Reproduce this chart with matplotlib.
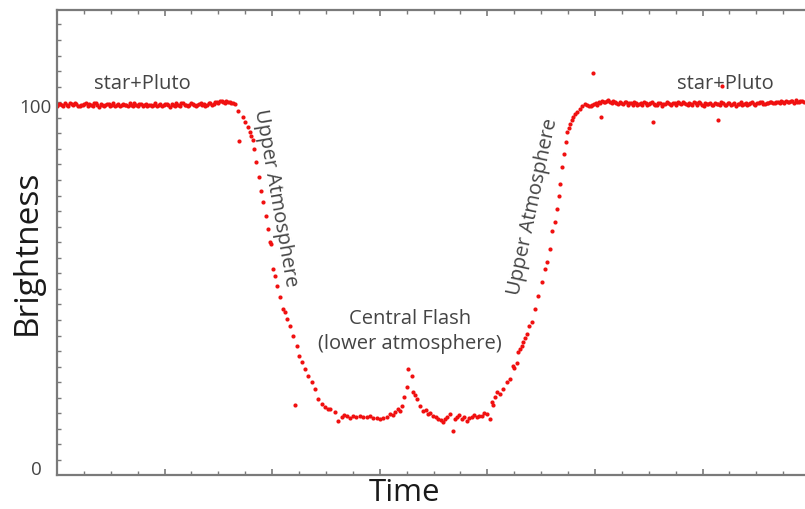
import numpy as np
import matplotlib.pyplot as plt
from matplotlib.ticker import MultipleLocator, FixedLocator

plt.rcParams['font.family'] = ['Open Sans', 'DejaVu Sans']

# baseline before the occultation (star + Pluto)
t_before = [0, 3, 6, 9, 12, 15, 18, 21, 24, 27, 30, 33, 36, 39, 42, 45, 48, 51, 54, 57,
            60, 63, 66, 69, 72, 75, 78, 81, 84, 87, 90, 93, 96, 99, 102, 105, 108, 111, 114, 117,
            120, 123, 126, 129, 132, 135, 138, 141, 144, 147, 150, 153, 156, 159, 162, 165]
b_before = [99.8, 100.2, 99.6, 100.1, 100.5, 99.9, 100.3, 99.7, 100.0, 100.6,
            100.2, 99.8, 100.4, 99.5, 100.1, 99.9, 100.3, 100.0, 99.6, 100.2,
            99.9, 100.1, 99.7, 100.0, 100.4, 99.8, 100.2, 99.9, 99.6, 100.1,
            100.0, 99.7, 100.3, 99.9, 100.2, 99.5, 100.0, 100.4, 99.8, 100.6,
            100.1, 99.9, 100.3, 99.7, 100.2, 100.0, 99.6, 100.4, 100.1, 100.8,
            100.5, 101.0, 100.6, 100.9, 100.4, 100.2]
t_before_mid = [1.5, 4.5, 7.5, 10.5, 13.5, 16.5, 19.5, 22.5, 25.5, 28.5, 31.5, 34.5, 37.5,
                40.5, 43.5, 46.5, 49.5, 52.5, 55.5, 58.5, 61.5, 64.5, 67.5, 70.5, 73.5, 76.5,
                79.5, 82.5, 85.5, 88.5, 91.5, 94.5, 97.5, 100.5, 103.5, 106.5, 109.5, 112.5,
                115.5, 118.5, 121.5, 124.5, 127.5, 130.5, 133.5, 136.5, 139.5, 142.5, 145.5,
                148.5, 151.5, 154.5, 157.5, 160.5, 163.5]
b_before_mid = [100.3, 99.9, 100.5, 99.6, 100.2, 100.4, 99.8, 100.1, 100.3, 99.7,
                100.0, 100.5, 99.9, 100.2, 99.6, 100.3, 99.8, 100.4, 100.0, 99.7,
                100.3, 99.9, 100.5, 99.8, 100.1, 100.3, 99.7, 100.2, 100.0, 99.8,
                100.4, 100.1, 99.6, 100.3, 99.9, 100.2, 99.7, 100.1, 100.5, 100.0,
                99.8, 100.4, 100.1, 99.9, 100.5, 100.2, 100.0, 100.6, 100.3, 100.9,
                101.1, 100.7, 101.2, 100.8, 100.5]

# ingress through the upper atmosphere
t_ingress = [168.2, 172.9, 174.7, 177.5, 179.4, 180.3, 182.2, 183.1, 184.9, 187.7,
             189.6, 191.4, 194.2, 196.1, 198.0, 198.9, 200.7, 202.6, 204.5, 207.2,
             210.0, 211.9, 213.8, 216.5, 219.3, 223.0, 224.9, 227.7, 230.5, 233.3,
             237.0, 239.8, 242.6, 246.3, 249.1, 251.9, 253.7, 258.4]
b_ingress = [98.3, 96.7, 95.3, 93.9, 92.6, 91.4, 90.3, 87.8, 84.3, 80.1,
             76.2, 73.2, 69.3, 65.7, 62.2, 61.6, 54.7, 52.8, 50.0, 47.0,
             43.6, 42.8, 40.9, 39.0, 36.2, 33.4, 30.7, 29.0, 27.1, 25.1,
             23.5, 21.5, 18.8, 17.4, 16.6, 16.0, 16.0, 15.2]

# floor of the light curve with the central flash
t_floor = [261.2, 264.9, 267.0, 269.5, 272.3, 275.1, 278.0, 281.6, 284.5, 288.1,
           291.0, 293.7, 297.0, 300.2, 303.4, 306.7, 309.5, 312.0, 314.1, 316.9,
           318.8, 320.6, 322.5, 325.3, 326.2, 329.9, 330.9, 332.5, 334.6, 337.4,
           340.1, 342.5, 344.8, 347.0, 349.4, 351.8, 354.1, 356.5, 358.7, 360.5,
           362.5, 365.2, 369.8, 371.7, 374.0, 376.4, 378.7, 381.0, 383.3, 385.7,
           388.0, 390.3, 392.6, 395.0, 397.3, 399.6, 402.4]
b_floor = [12.7, 13.8, 14.4, 14.1, 13.6, 14.1, 13.9, 14.1, 13.7, 13.8,
           14.0, 13.5, 13.6, 13.3, 13.5, 13.8, 14.6, 14.4, 15.2, 16.0,
           15.6, 16.9, 19.3, 22.1, 27.1, 25.1, 20.7, 19.9, 18.8, 16.9,
           15.5, 15.8, 14.6, 14.9, 14.1, 13.9, 13.3, 13.0, 12.4, 13.2,
           13.8, 14.6, 13.4, 13.8, 14.3, 13.3, 13.9, 12.7, 13.5, 13.8,
           14.4, 13.8, 14.2, 14.1, 15.0, 14.6, 13.3]

# egress
t_egress = [404.3, 405.6, 407.1, 408.9, 411.7, 414.5, 418.2, 421.0, 423.8, 425.2,
            427.5, 428.4, 430.3, 432.2, 433.1, 435.0, 436.8, 438.7, 441.4, 444.2,
            447.0, 450.7, 453.5, 455.4, 458.2, 460.0, 462.8, 464.7, 466.5, 467.5,
            469.3, 471.2, 473.0, 474.0, 475.4, 476.8, 478.2, 479.6, 481.5, 483.3,
            486.1, 488.4, 490.7]
b_egress = [18.0, 17.2, 19.3, 20.7, 20.2, 21.5, 23.5, 24.3, 27.9, 27.4,
            28.7, 31.8, 32.6, 33.4, 34.5, 35.6, 36.7, 39.0, 40.1, 43.6,
            47.2, 51.1, 54.7, 56.6, 60.2, 65.2, 67.7, 71.3, 74.9, 78.2,
            82.9, 86.5, 89.8, 92.5, 93.6, 94.8, 95.9, 96.7, 97.4, 98.1,
            98.9, 99.6, 100.3]

# baseline after the occultation
t_after = [493, 496, 499, 502, 505, 508, 511, 514, 517, 520, 523, 526, 529, 532, 535, 538, 541,
           544, 547, 550, 553, 556, 559, 562, 565, 568, 571, 574, 577, 580, 583, 586, 589, 592,
           595, 598, 601, 604, 607, 610, 613, 616, 619, 622, 625, 628, 631, 634, 637, 640, 643,
           646, 649, 652, 655, 658, 661, 664, 667, 670, 673, 676, 679, 682, 685, 688, 691, 694]
b_after = [100.0, 99.7, 100.3, 100.1, 100.6, 100.9, 101.2, 100.8, 101.0, 100.5,
           100.9, 100.2, 100.7, 100.4, 100.0, 100.6, 100.3, 99.9, 100.5, 100.2,
           100.8, 100.1, 100.4, 99.8, 100.3, 100.6, 100.0, 100.4, 100.9, 100.2,
           100.5, 99.9, 100.3, 100.7, 100.1, 100.4, 99.8, 100.2, 100.5, 100.0,
           100.3, 99.9, 100.4, 100.1, 100.6, 100.2, 99.8, 100.3, 100.0, 100.5,
           100.2, 100.7, 100.1, 100.4, 100.8, 100.3, 100.6, 100.9, 100.4, 100.7,
           101.0, 100.5, 100.8, 101.1, 100.6, 100.9, 101.2, 100.8]
t_after_mid = [494.5, 497.5, 500.5, 503.5, 506.5, 509.5, 512.5, 515.5, 518.5, 521.5, 524.5,
               527.5, 530.5, 533.5, 536.5, 539.5, 542.5, 545.5, 548.5, 551.5, 554.5, 557.5,
               560.5, 563.5, 566.5, 569.5, 572.5, 575.5, 578.5, 581.5, 584.5, 587.5, 590.5,
               593.5, 596.5, 599.5, 602.5, 605.5, 608.5, 611.5, 614.5, 617.5, 620.5, 623.5,
               626.5, 629.5, 632.5, 635.5, 638.5, 641.5, 644.5, 647.5, 650.5, 653.5, 656.5,
               659.5, 662.5, 665.5, 668.5, 671.5, 674.5, 677.5, 680.5, 683.5, 686.5, 689.5,
               692.5]
b_after_mid = [99.8, 100.1, 100.4, 100.8, 101.1, 100.7, 101.3, 100.6, 100.9, 100.3,
               100.6, 100.9, 100.1, 100.5, 100.8, 100.0, 100.4, 100.7, 100.1, 100.6,
               100.3, 100.0, 100.5, 100.2, 100.8, 100.3, 100.6, 100.1, 100.5, 100.8,
               100.2, 100.6, 100.0, 100.4, 100.7, 100.1, 100.5, 100.2, 99.9, 100.6,
               100.3, 100.8, 100.0, 100.4, 100.1, 100.5, 100.2, 100.7, 100.3, 100.0,
               100.5, 100.3, 100.6, 100.9, 100.2, 100.5, 100.8, 100.6, 100.9, 100.5,
               100.8, 101.1, 100.7, 101.0, 101.3, 100.9, 101.1]

# stray points
t_out = [169.1, 221.2, 368.0, 498.1, 505.6, 553.9, 614.3, 618.0]
b_out = [90.1, 17.1, 9.9, 108.8, 96.7, 95.3, 95.9, 105.2]

fig = plt.figure(figsize=(8.05, 5.10), dpi=100)
ax = fig.add_axes([57 / 805, 34 / 510, 748 / 805, 465 / 510])

red = '#f01010'
for t, b in [(t_before, b_before), (t_before_mid, b_before_mid),
             (t_ingress, b_ingress), (t_floor, b_floor), (t_egress, b_egress),
             (t_after, b_after), (t_after_mid, b_after_mid), (t_out, b_out)]:
    ax.plot(t, b, 'o', color=red, ms=3.0, mew=0)

ax.set_xlim(0, 695.2)
ax.set_ylim(-2.2, 126.2)

# frame and ticks
for s in ['left', 'bottom', 'top']:
    ax.spines[s].set_color('#7a7a7a')
    ax.spines[s].set_linewidth(1.6)
ax.spines['right'].set_visible(False)

ax.xaxis.set_major_locator(MultipleLocator(100))
ax.xaxis.set_minor_locator(MultipleLocator(25))
ax.set_xticklabels([])
ax.tick_params(axis='x', which='both', direction='in', top=True, bottom=True,
               color='#7a7a7a', labelbottom=False)
ax.tick_params(axis='x', which='major', length=4, width=1.2)
ax.tick_params(axis='x', which='minor', length=3, width=1.0)

ax.set_yticks([0, 100])
ax.set_yticklabels(['0  ', '100'])
ax.yaxis.set_minor_locator(FixedLocator(np.arange(1.93, 126, 4.296)))
ax.tick_params(axis='y', which='major', length=0, pad=4, labelsize=13.5, labelcolor='#444444')
ax.tick_params(axis='y', which='minor', direction='in', length=3, width=1.0, color='#7a7a7a',
               right=False)

ax.set_xlabel('Time', fontsize=22.5, color='#1a1a1a')
ax.xaxis.set_label_coords(0.465, -0.037)
ax.xaxis.label.set_va('center')
ax.set_ylabel('Brightness', fontsize=24, color='#1a1a1a')
ax.yaxis.set_label_coords(-0.040, 0.48)
ax.yaxis.label.set_va('center')

txt = dict(color='#444444', fontsize=14.5, ha='center', va='center')
ax.text(79, 106.1, 'star+Pluto', **txt)
ax.text(620.8, 106.1, 'star+Pluto', **txt)
ax.text(203.5, 74.6, 'Upper Atmosphere', rotation=-80, rotation_mode='anchor', **txt)
ax.text(442.4, 72.1, 'Upper Atmosphere', rotation=78, rotation_mode='anchor', **txt)
ax.text(328, 37.6, 'Central Flash\n(lower atmosphere)', linespacing=1.35, **txt)

fig.savefig('out.png', dpi=100)
